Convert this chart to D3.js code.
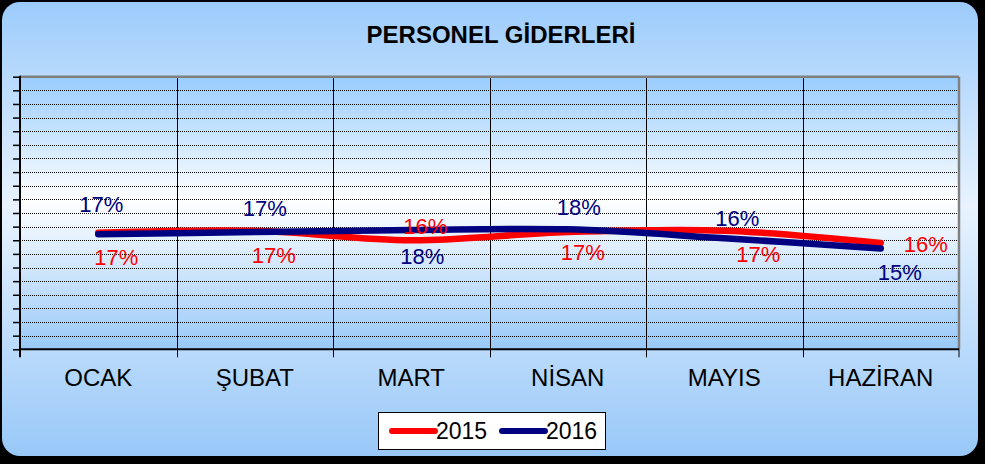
<!DOCTYPE html>
<html>
<head>
<meta charset="utf-8">
<script src="https://cdn.jsdelivr.net/npm/d3@7/dist/d3.min.js"></script>
<style>
html,body{margin:0;padding:0;background:#000;}
svg{display:block;}
text{font-family:"Liberation Sans",Arial,sans-serif;}
</style>
</head>
<body>
<svg id="chart" width="985" height="464"></svg>
<script>
const title = "PERSONEL GİDERLERİ";
const categories = ["OCAK", "ŞUBAT", "MART", "NİSAN", "MAYIS", "HAZİRAN"];
const series2015 = [0.171, 0.174, 0.160, 0.172, 0.174, 0.156];
const series2016 = [0.169, 0.172, 0.175, 0.176, 0.163, 0.148];
const labels2015 = ["17%", "17%", "16%", "17%", "17%", "16%"];
const labels2016 = ["17%", "17%", "18%", "18%", "16%", "15%"];
const seriesNames = ["2015", "2016"];
const yTicks = d3.range(0, 0.4001, 0.02);

// label placement (layout only)
const offsets2015 = [[18,32],[19,32],[14,-6],[15,28],[34,31],[45,9]];
const offsets2016 = [[3,-22],[10,-16],[11,34],[11,-14],[13,-12],[19,32]];

const svg = d3.select("#chart");
const W = 985, H = 464;
const defs = svg.append("defs");

const g1 = defs.append("linearGradient").attr("id","bgGrad").attr("x1",0).attr("y1",0).attr("x2",0).attr("y2",1);
g1.append("stop").attr("offset","0%").attr("stop-color","#9ccbfb");
g1.append("stop").attr("offset","45%").attr("stop-color","#e8f3ff");
g1.append("stop").attr("offset","100%").attr("stop-color","#98c8f8");

const g2 = defs.append("linearGradient").attr("id","plotGrad").attr("x1",0).attr("y1",0).attr("x2",0).attr("y2",1);
g2.append("stop").attr("offset","0%").attr("stop-color","#99ccff");
g2.append("stop").attr("offset","45%").attr("stop-color","#ffffff");
g2.append("stop").attr("offset","100%").attr("stop-color","#99c9f9");

svg.append("rect").attr("width",W).attr("height",H).attr("fill","#000");
svg.append("rect").attr("x",2).attr("y",2).attr("width",976).attr("height",454)
  .attr("rx",18).attr("ry",18).attr("fill","url(#bgGrad)");

const pLeft = 20, pRight = 959, pTop = 76.7, pBottom = 349.3;
const x = d3.scaleBand().domain(categories).range([pLeft, pRight]).padding(0);
const y = d3.scaleLinear().domain([0, 0.4]).range([pBottom, pTop]);
const cx = c => x(c) + x.bandwidth()/2;

// plot area
svg.append("rect").attr("x",pLeft).attr("y",pTop).attr("width",pRight-pLeft).attr("height",pBottom-pTop)
  .attr("fill","url(#plotGrad)");

// horizontal dotted gridlines
svg.append("g").selectAll("line").data(yTicks.slice(1, -1)).join("line")
  .attr("x1",pLeft).attr("x2",pRight)
  .attr("y1",d=>Math.round(y(d))+0.5).attr("y2",d=>Math.round(y(d))+0.5)
  .attr("stroke","#000").attr("stroke-width",1).attr("stroke-dasharray","1,1");

// vertical gridlines
svg.append("g").selectAll("line").data(categories.slice(1)).join("line")
  .attr("x1",d=>Math.round(x(d))+0.5).attr("x2",d=>Math.round(x(d))+0.5)
  .attr("y1",pTop).attr("y2",pBottom+8)
  .attr("stroke","#000").attr("stroke-width",1);

// plot border top/right gray
svg.append("line").attr("x1",pLeft).attr("x2",pRight).attr("y1",pTop).attr("y2",pTop)
  .attr("stroke","#808080").attr("stroke-width",2.5);
svg.append("line").attr("x1",pRight).attr("x2",pRight).attr("y1",pTop).attr("y2",pBottom)
  .attr("stroke","#808080").attr("stroke-width",2.5);
svg.append("line").attr("x1",pRight).attr("x2",pRight).attr("y1",pBottom).attr("y2",pBottom+8)
  .attr("stroke","#000").attr("stroke-width",1);

// y axis
const yAxis = d3.axisLeft(y).tickValues(yTicks).tickSize(7).tickFormat("");
const ya = svg.append("g").attr("transform",`translate(${pLeft},0)`).call(yAxis);
ya.select(".domain").remove();
ya.selectAll(".tick line").attr("stroke","#000").attr("stroke-width",1.5);
svg.append("line").attr("x1",pLeft).attr("x2",pLeft).attr("y1",pTop-1).attr("y2",pBottom+8)
  .attr("stroke","#000").attr("stroke-width",2);

// x axis
const xAxis = d3.axisBottom(x).tickSize(0).tickPadding(0);
const xa = svg.append("g").attr("transform",`translate(0,${pBottom})`).call(xAxis);
xa.select(".domain").remove();
xa.selectAll(".tick text").attr("y",37).attr("dy",0).attr("font-size","24px")
  .attr("fill","#000").style("font-family","'Liberation Sans',Arial,sans-serif");
svg.append("line").attr("x1",pLeft).attr("x2",pRight).attr("y1",pBottom).attr("y2",pBottom)
  .attr("stroke","#000").attr("stroke-width",2);

// lines
const line = d3.line().x((d,i)=>cx(categories[i])).y(d=>y(d)).curve(d3.curveCardinal.tension(0));
const seriesData = [
  {name: seriesNames[0], values: series2015, labels: labels2015, color: "#ff0000", off: offsets2015},
  {name: seriesNames[1], values: series2016, labels: labels2016, color: "#000080", off: offsets2016}
];
seriesData.forEach(s => {
  svg.append("path").datum(s.values).attr("d",line).attr("fill","none")
    .attr("stroke",s.color).attr("stroke-width",6.5).attr("stroke-linecap","round").attr("stroke-linejoin","round");
});
seriesData.forEach(s => {
  svg.append("g").selectAll("text").data(s.values).join("text")
    .attr("x",(d,i)=>cx(categories[i]) + s.off[i][0])
    .attr("y",(d,i)=>y(d) + s.off[i][1])
    .attr("text-anchor","middle").attr("font-size","22px").attr("fill",s.color)
    .text((d,i)=>s.labels[i]);
});

// title
svg.append("text").attr("x",501).attr("y",43).attr("text-anchor","middle")
  .attr("font-size","24px").attr("font-weight","bold").attr("fill","#000").text(title);

// legend
const lg = svg.append("g");
lg.append("rect").attr("x",378.5).attr("y",412.5).attr("width",227).attr("height",37)
  .attr("fill","#fff").attr("stroke","#000").attr("stroke-width",1);
const legendItems = [{x:392, s:seriesData[0]}, {x:502, s:seriesData[1]}];
legendItems.forEach(it => {
  lg.append("line").attr("x1",it.x).attr("x2",it.x+43).attr("y1",431).attr("y2",431)
    .attr("stroke",it.s.color).attr("stroke-width",6).attr("stroke-linecap","round");
  lg.append("text").attr("x",it.x+44).attr("y",439).attr("font-size","23px").attr("fill","#000").text(it.s.name);
});
</script>
</body>
</html>
